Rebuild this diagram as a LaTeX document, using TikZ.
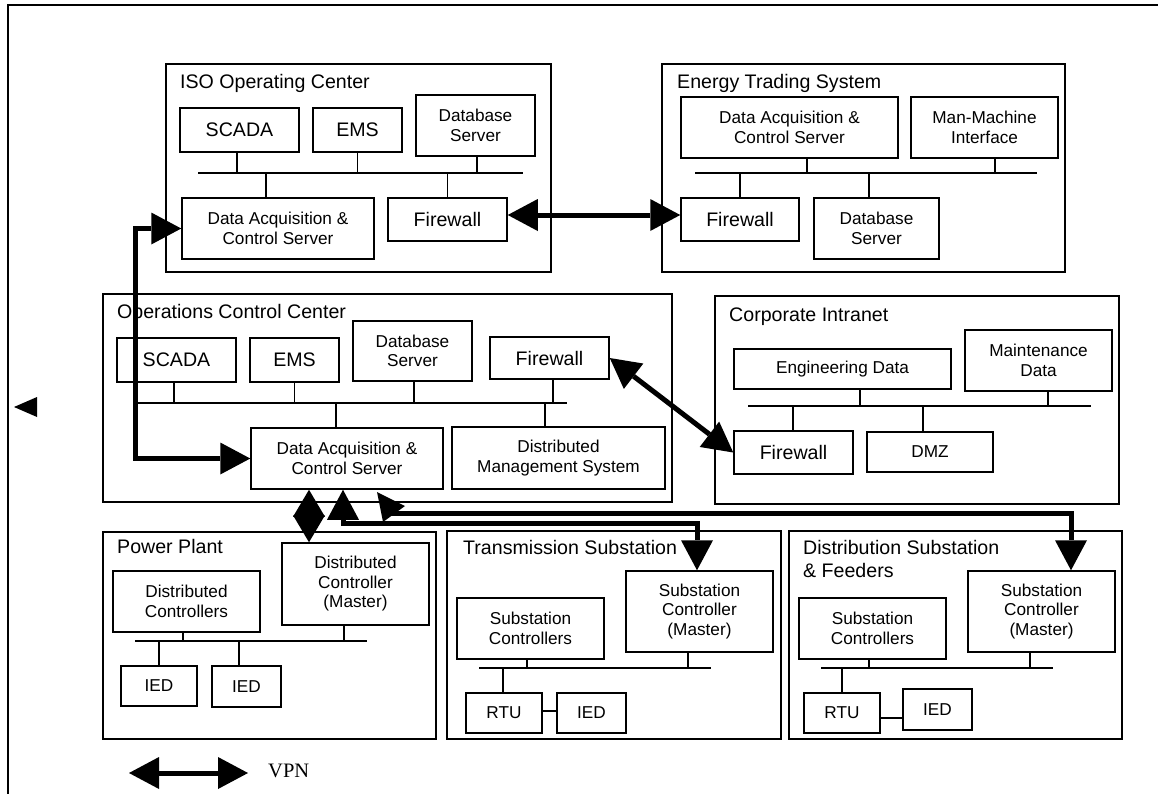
\documentclass[tikz,border=0pt]{standalone}
\usepackage{fontspec}
\setmainfont{Liberation Sans}
\newfontfamily\serifvpn{Liberation Serif}
\usetikzlibrary{arrows.meta}
\newcommand\bigf{\fontsize{19.6}{23}\selectfont}
\newcommand\smallf{\fontsize{17.2}{19.5}\selectfont}
\newcommand\mytap[3]{\draw[wire] ([xshift=#2pt]#1) -- ([xshift=#2pt]#1 |- #3);}
\tikzset{
 box/.style={draw, line width=1.5pt, inner sep=1pt, align=center, font=\smallf},
 bigbox/.style={box, font=\bigf},
 group/.style={draw, line width=1.5pt, inner sep=0pt},
 title/.style={anchor=base west, inner sep=0pt, font=\bigf},
 wire/.style={line width=1.5pt},
 tipv/.style={line width=5pt, {Triangle[length=30pt,width=32pt,line width=0pt]}-{Triangle[length=30pt,width=32pt,line width=0pt]}},
 tipend/.style={line width=5pt, -{Triangle[length=30pt,width=32pt,line width=0pt]}},
}
\begin{document}
\begin{tikzpicture}[x=1pt,y=-1pt]
\useasboundingbox (0,0) rectangle (1158,793);
% outer frame
\coordinate (frA) at (8,800);
\coordinate (frB) at (8,5);
\coordinate (frC) at (1165,5);
\draw[line width=1.6pt] (frA) -- (frB) -- (frC);
\fill (14,407) -- (37,397) -- (37,417) -- cycle;

% ---------- ISO Operating Center
\node[group, minimum width=385pt, minimum height=208pt] (iso) at (358.5,168) {};
\node[title] (isot) at (180,88) {ISO Operating Center};
\node[bigbox, minimum width=119pt, minimum height=44pt] (iso_scada) at (239.5,130) {SCADA};
\node[bigbox, minimum width=89pt, minimum height=44pt] (iso_ems) at (357.5,130) {EMS};
\node[box, minimum width=119pt, minimum height=61pt] (iso_db) at (475.5,125.5) {Database\\Server};
\node[box, minimum width=192pt, minimum height=61pt] (iso_dacs) at (278,228.5) {Data Acquisition \&\\Control Server};
\node[bigbox, minimum width=119pt, minimum height=43pt] (iso_fw) at (447.5,219.5) {Firewall};
\coordinate (isobusL) at (198,173);
\coordinate (isobusR) at (523,173);
\draw[wire] (isobusL) -- (isobusR);
\mytap{iso_scada.south}{-2.5}{isobusL}
\mytap{iso_ems.south}{0}{isobusL}
\mytap{iso_db.south}{1.5}{isobusL}
\mytap{iso_dacs.north}{-12}{isobusL}
\mytap{iso_fw.north}{0}{isobusL}

% ---------- Energy Trading System
\node[group, minimum width=403pt, minimum height=208pt] (ets) at (863.5,168) {};
\node[title] (etst) at (677,88) {Energy Trading System};
\node[box, minimum width=217pt, minimum height=61pt] (ets_dacs) at (789.5,127.5) {Data Acquisition \&\\Control Server};
\node[box, minimum width=147pt, minimum height=61pt] (ets_mmi) at (984.5,127.5) {Man-Machine\\Interface};
\node[bigbox, minimum width=118pt, minimum height=43pt] (ets_fw) at (740,219.5) {Firewall};
\node[box, minimum width=125pt, minimum height=61pt] (ets_db) at (876.5,228.5) {Database\\Server};
\coordinate (etsbusL) at (695,173);
\coordinate (etsbusR) at (1037,173);
\draw[wire] (etsbusL) -- (etsbusR);
\mytap{ets_dacs.south}{17.5}{etsbusL}
\mytap{ets_mmi.south}{10.5}{etsbusL}
\mytap{ets_fw.north}{0}{etsbusL}
\mytap{ets_db.north}{-7.5}{etsbusL}

% ---------- Operations Control Center
\node[group, minimum width=569pt, minimum height=208pt] (occ) at (387.5,398) {};
\node[title] (occt) at (117,318) {Operations Control Center};
\node[bigbox, minimum width=119pt, minimum height=44pt] (occ_scada) at (176.5,360) {SCADA};
\node[bigbox, minimum width=89pt, minimum height=44pt] (occ_ems) at (294.5,360) {EMS};
\node[box, minimum width=119pt, minimum height=60pt] (occ_db) at (412.5,351) {Database\\Server};
\node[bigbox, minimum width=119pt, minimum height=42pt] (occ_fw) at (549.5,358) {Firewall};
\node[box, minimum width=192pt, minimum height=61pt] (occ_dacs) at (347,458.5) {Data Acquisition \&\\Control Server};
\node[box, minimum width=213pt, minimum height=62pt] (occ_dms) at (558.5,458) {Distributed\\Management System};
\coordinate (occbusL) at (137,403);
\coordinate (occbusR) at (567,403);
\draw[wire] (occbusL) -- (occbusR);
\mytap{occ_scada.south}{-2.5}{occbusL}
\mytap{occ_ems.south}{0}{occbusL}
\mytap{occ_db.south}{1.5}{occbusL}
\mytap{occ_fw.south}{3.5}{occbusL}
\mytap{occ_dacs.north}{-11}{occbusL}
\mytap{occ_dms.north}{-13.5}{occbusL}

% ---------- Corporate Intranet
\node[group, minimum width=404pt, minimum height=208pt] (ci) at (917,400) {};
\node[title] (cit) at (729,321) {Corporate Intranet};
\node[box, minimum width=217pt, minimum height=40pt] (ci_eng) at (842.5,369) {Engineering Data};
\node[box, minimum width=147pt, minimum height=61pt] (ci_maint) at (1038.5,360.5) {Maintenance\\Data};
\node[bigbox, minimum width=119pt, minimum height=43pt] (ci_fw) at (793.5,452.5) {Firewall};
\node[box, minimum width=126pt, minimum height=40pt] (ci_dmz) at (930,452) {DMZ};
\coordinate (cibusL) at (748,406);
\coordinate (cibusR) at (1091,406);
\draw[wire] (cibusL) -- (cibusR);
\mytap{ci_eng.south}{17.5}{cibusL}
\mytap{ci_maint.south}{9.5}{cibusL}
\mytap{ci_fw.north}{-0.5}{cibusL}
\mytap{ci_dmz.north}{-7}{cibusL}

% ---------- Power Plant
\node[group, minimum width=333pt, minimum height=207pt] (pp) at (269.5,635.5) {};
\node[title] (ppt) at (117,553) {Power Plant};
\node[box, minimum width=147pt, minimum height=82pt] (pp_dcm) at (355.5,584) {Distributed\\Controller\\(Master)};
\node[box, minimum width=147pt, minimum height=61pt] (pp_dc) at (186.5,601.5) {Distributed\\Controllers};
\node[box, minimum width=76pt, minimum height=40pt] (pp_ied1) at (159,686) {IED};
\node[box, minimum width=69pt, minimum height=41pt] (pp_ied2) at (246.5,686.5) {IED};
\coordinate (ppbusL) at (135,641);
\coordinate (ppbusR) at (367,641);
\draw[wire] (ppbusL) -- (ppbusR);
\mytap{pp_dcm.south}{-11.5}{ppbusL}
\mytap{pp_dc.south}{-3.5}{ppbusL}
\mytap{pp_ied1.north}{0}{ppbusL}
\mytap{pp_ied2.north}{-7.5}{ppbusL}

% ---------- Transmission Substation
\node[group, minimum width=334pt, minimum height=208pt] (ts) at (614,635) {};
\node[title] (tst) at (463,554) {Transmission Substation};
\node[box, minimum width=147pt, minimum height=81pt] (ts_scm) at (699.5,611.5) {Substation\\Controller\\(Master)};
\node[box, minimum width=147pt, minimum height=61pt] (ts_sc) at (530.5,628.5) {Substation\\Controllers};
\node[box, minimum width=76pt, minimum height=40pt] (ts_rtu) at (504,713) {RTU};
\node[box, minimum width=69pt, minimum height=40pt] (ts_ied) at (591.5,713) {IED};
\coordinate (tsbusL) at (479,668);
\coordinate (tsbusR) at (711,668);
\draw[wire] (tsbusL) -- (tsbusR);
\mytap{ts_scm.south}{-11.5}{tsbusL}
\mytap{ts_sc.south}{-3.5}{tsbusL}
\mytap{ts_rtu.north}{-1}{tsbusL}
\draw[wire] ([yshift=2pt]ts_rtu.east) -- ([yshift=2pt]ts_rtu.east -| ts_ied.west);

% ---------- Distribution Substation & Feeders
\node[group, minimum width=333pt, minimum height=208pt] (ds) at (955.5,635) {};
\node[title] (dst1) at (803,554) {Distribution Substation};
\node[title] (dst2) at (803,577) {\& Feeders};
\node[box, minimum width=147pt, minimum height=81pt] (ds_scm) at (1041.5,611.5) {Substation\\Controller\\(Master)};
\node[box, minimum width=147pt, minimum height=61pt] (ds_sc) at (872.5,628.5) {Substation\\Controllers};
\node[box, minimum width=76pt, minimum height=40pt] (ds_rtu) at (842,713) {RTU};
\node[box, minimum width=69pt, minimum height=41pt] (ds_ied) at (937.5,709.5) {IED};
\coordinate (dsbusL) at (821,668);
\coordinate (dsbusR) at (1053,668);
\draw[wire] (dsbusL) -- (dsbusR);
\mytap{ds_scm.south}{-11.5}{dsbusL}
\mytap{ds_sc.south}{-3.5}{dsbusL}
\mytap{ds_rtu.north}{0}{dsbusL}
\draw[wire] ([yshift=-5pt]ds_rtu.east) -- ([yshift=-5pt]ds_rtu.east -| ds_ied.west);

% ---------- VPN links
\coordinate (lk) at (135,0);
\draw[tipv] (iso_dacs.west) -| (lk |- occ_dacs.west) -- (occ_dacs.west);
\draw[tipv] ([yshift=4.5pt]iso_fw.east) -- ([yshift=4.5pt]iso_fw.east -| ets_fw.west);
\draw[tipv] (occ_fw.east) -- (ci_fw.west);
\draw[line width=5pt, {Triangle[length=27pt,width=32pt,line width=0pt]}-{Triangle[length=27pt,width=32pt,line width=0pt]}]
  ([xshift=-38pt]occ_dacs.south) -- ([xshift=-38pt]occ_dacs.south |- pp_dcm.north);
\coordinate (tsA) at (343,523);
\draw[tipv] ([xshift=-4pt]occ_dacs.south) -- (tsA) -| ([xshift=-2.5pt]ts_scm.north);
\coordinate (dsA) at (383,513);
\draw[tipend] (dsA) -| ([xshift=29.5pt]ds_scm.north);
\fill (377,492) -- (405,506) -- (383,522) -- cycle;

% legend
\coordinate (vpnL) at (129,773);
\coordinate (vpnR) at (248,773);
\draw[tipv] (vpnL) -- (vpnR);
\node[anchor=base west, inner sep=0pt, font=\serifvpn\fontsize{20.5}{24}\selectfont] (vpnlbl) at (268,777) {VPN};
\end{tikzpicture}
\end{document}
